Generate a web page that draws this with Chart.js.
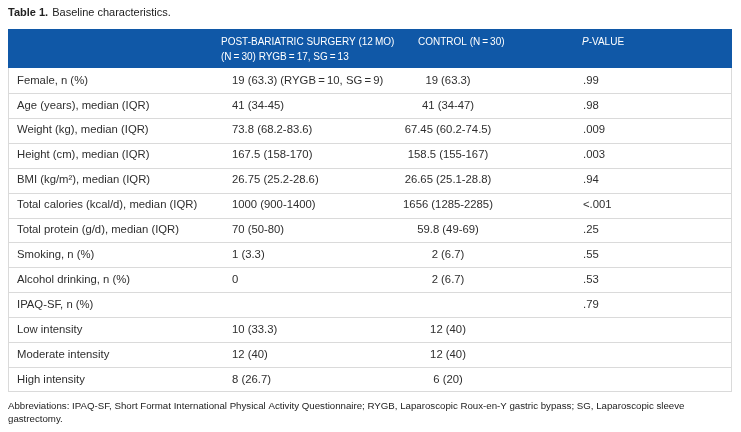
<!DOCTYPE html>
<html>
<head>
<meta charset="utf-8">
<script src="https://cdn.jsdelivr.net/npm/chart.js@4/dist/chart.umd.min.js"></script>
<style>
  html, body { margin: 0; padding: 0; background: #ffffff; }
  #wrap { width: 741px; height: 432px; position: relative; }
</style>
</head>
<body>
<div id="wrap"><canvas id="c" width="741" height="432"></canvas></div>
<script>
// ---- Data ----
const tableTitleBold = "Table 1.";
const tableTitle = "Baseline characteristics.";
const headerSurgery = ["POST-BARIATRIC SURGERY (12\u2009MO)", "(N\u2009=\u200930) RYGB\u2009=\u200917, SG\u2009=\u200913"];
const headerControl = "CONTROL (N\u2009=\u200930)";
const headerPItalic = "P";
const headerPRest = "-VALUE";
const rowLabels = [
  "Female, n (%)",
  "Age (years), median (IQR)",
  "Weight (kg), median (IQR)",
  "Height (cm), median (IQR)",
  "BMI (kg/m\u00B2), median (IQR)",
  "Total calories (kcal/d), median (IQR)",
  "Total protein (g/d), median (IQR)",
  "Smoking, n (%)",
  "Alcohol drinking, n (%)",
  "IPAQ-SF, n (%)",
  "Low intensity",
  "Moderate intensity",
  "High intensity"
];
const surgeryValues = [
  "19 (63.3) (RYGB\u2009=\u200910, SG\u2009=\u20099)",
  "41 (34-45)",
  "73.8 (68.2-83.6)",
  "167.5 (158-170)",
  "26.75 (25.2-28.6)",
  "1000 (900-1400)",
  "70 (50-80)",
  "1 (3.3)",
  "0",
  "",
  "10 (33.3)",
  "12 (40)",
  "8 (26.7)"
];
const controlValues = [
  "19 (63.3)",
  "41 (34-47)",
  "67.45 (60.2-74.5)",
  "158.5 (155-167)",
  "26.65 (25.1-28.8)",
  "1656 (1285-2285)",
  "59.8 (49-69)",
  "2 (6.7)",
  "2 (6.7)",
  "",
  "12 (40)",
  "12 (40)",
  "6 (20)"
];
const pValues = [".99", ".98", ".009", ".003", ".94", "<.001", ".25", ".55", ".53", ".79", "", "", ""];
const footnoteLines = [
  "Abbreviations: IPAQ-SF, Short Format International Physical Activity Questionnaire; RYGB, Laparoscopic Roux-en-Y gastric bypass; SG, Laparoscopic sleeve",
  "gastrectomy."
];

// ---- Styling / layout (not data) ----
const FONT = "'Liberation Sans', Arial, Helvetica, sans-serif";
const BLUE = "#1058a7";
const TEXT = "#2f2f2f";
const RULE = "#dadada";
const layout = {
  labelX: 9, surgeryX: 224, controlCX: 440, pX: 575,
  hSurgeryX: 213, hControlX: 410, hPX: 574,
  headerTop: 29
};

const tablePlugin = {
  id: 'tablePlugin',
  afterDraw(chart) {
    const ctx = chart.ctx;
    const area = chart.chartArea;
    const y = chart.scales.y;
    const L = area.left, R = area.right;
    ctx.save();

    // Title
    ctx.textBaseline = 'middle';
    ctx.fillStyle = '#222';
    ctx.font = "bold 11px " + FONT;
    ctx.textAlign = 'left';
    ctx.fillText(tableTitleBold, L, 13);
    const bw = ctx.measureText(tableTitleBold + " ").width;
    ctx.font = "11px " + FONT;
    ctx.fillText(tableTitle, L + bw + 1, 13);

    // Header band
    ctx.fillStyle = BLUE;
    ctx.fillRect(L, layout.headerTop, R - L, area.top - layout.headerTop);
    ctx.fillStyle = '#ffffff';
    ctx.font = "10px " + FONT;
    ctx.fillText(headerSurgery[0], L + layout.hSurgeryX, 42);
    ctx.fillText(headerSurgery[1], L + layout.hSurgeryX, 57);
    ctx.fillText(headerControl, L + layout.hControlX, 42);
    ctx.font = "italic 10px " + FONT;
    ctx.fillText(headerPItalic, L + layout.hPX, 42);
    const pw = ctx.measureText(headerPItalic).width;
    ctx.font = "10px " + FONT;
    ctx.fillText(headerPRest, L + layout.hPX + pw, 42);

    // Row rules and borders
    const n = rowLabels.length;
    ctx.strokeStyle = RULE;
    ctx.lineWidth = 1;
    ctx.beginPath();
    for (let i = 0; i < n - 1; i++) {
      const yy = Math.round((y.getPixelForValue(i) + y.getPixelForValue(i + 1)) / 2) + 0.5;
      ctx.moveTo(L, yy); ctx.lineTo(R, yy);
    }
    const bottom = Math.round(area.bottom) - 0.5;
    ctx.moveTo(L, bottom); ctx.lineTo(R, bottom);
    ctx.moveTo(L + 0.5, area.top); ctx.lineTo(L + 0.5, bottom);
    ctx.moveTo(R - 0.5, area.top); ctx.lineTo(R - 0.5, bottom);
    ctx.stroke();

    // Cells
    ctx.fillStyle = TEXT;
    ctx.font = "11.3px " + FONT;
    for (let i = 0; i < n; i++) {
      const cy = y.getPixelForValue(i);
      ctx.textAlign = 'left';
      ctx.fillText(rowLabels[i], L + layout.labelX, cy);
      ctx.fillText(surgeryValues[i], L + layout.surgeryX, cy);
      ctx.fillText(pValues[i], L + layout.pX, cy);
      ctx.textAlign = 'center';
      ctx.fillText(controlValues[i], L + layout.controlCX, cy);
    }

    // Footnote
    ctx.textAlign = 'left';
    ctx.fillStyle = '#222';
    ctx.font = "9.7px " + FONT;
    ctx.fillText(footnoteLines[0], L, 406);
    ctx.fillText(footnoteLines[1], L, 419);
    ctx.restore();
  }
};

new Chart(document.getElementById('c'), {
  type: 'bar',
  data: {
    labels: rowLabels,
    datasets: [{ data: rowLabels.map(() => null), backgroundColor: 'rgba(0,0,0,0)' }]
  },
  options: {
    indexAxis: 'y',
    responsive: false,
    animation: false,
    events: [],
    layout: { padding: { top: 68, left: 8, right: 9, bottom: 40 } },
    plugins: { legend: { display: false }, tooltip: { enabled: false }, title: { display: false } },
    scales: {
      y: { type: 'category', offset: true, display: false },
      x: { type: 'linear', min: 0, max: 1, display: false }
    }
  },
  plugins: [tablePlugin]
});
</script>
</body>
</html>
